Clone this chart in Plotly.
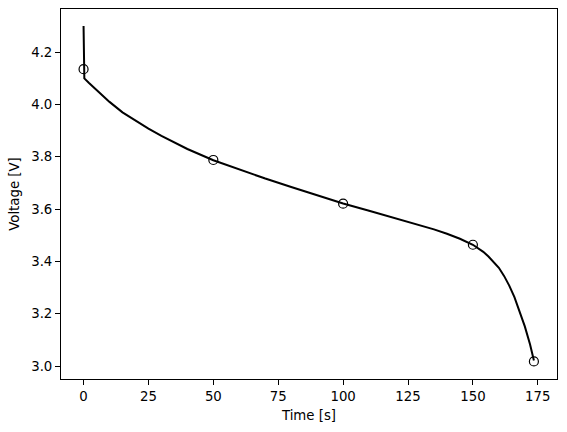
import plotly.graph_objects as go

# Voltage curve
time_s = [0, 0.3, 2, 5, 10, 15, 20, 25, 30, 40, 50, 60, 70, 80, 90, 100,
          110, 120, 130, 135, 140, 145, 150, 152, 154, 156, 158, 160, 162,
          164, 166, 168, 170, 172, 173.5]
voltage_v = [4.30, 4.10, 4.083, 4.055, 4.010, 3.970, 3.938, 3.908, 3.880,
             3.830, 3.787, 3.751, 3.717, 3.685, 3.654, 3.622, 3.594, 3.566,
             3.539, 3.523, 3.506, 3.487, 3.464, 3.451, 3.437, 3.419, 3.399,
             3.376, 3.345, 3.308, 3.264, 3.212, 3.152, 3.084, 3.022]

# Marker points
marker_t = [0, 50, 100, 150, 173.5]
marker_v = [4.135, 3.788, 3.621, 3.464, 3.018]

x_ticks = [0, 25, 50, 75, 100, 125, 150, 175]
y_ticks = [3.0, 3.2, 3.4, 3.6, 3.8, 4.0, 4.2]

fig = go.Figure()
fig.add_trace(go.Scatter(x=time_s, y=voltage_v, mode="lines",
                         line=dict(color="black", width=2),
                         showlegend=False))
fig.add_trace(go.Scatter(x=marker_t, y=marker_v, mode="markers",
                         marker=dict(symbol="circle-open", size=9,
                                     color="black", line=dict(width=1.2, color="black")),
                         showlegend=False))

font = dict(family="DejaVu Sans", size=13.3, color="black")
axis_common = dict(showgrid=False, zeroline=False, showline=True, linecolor="black",
                   linewidth=1, mirror=True, ticks="outside", ticklen=5,
                   tickwidth=1, tickcolor="black", tickfont=font)

fig.update_layout(
    width=567, height=432,
    margin=dict(l=61, r=9.5, t=9, b=53),
    plot_bgcolor="white", paper_bgcolor="white",
    font=font,
    xaxis=dict(range=[-8.69, 182.4], tickvals=x_ticks,
               ticktext=[str(v) for v in x_ticks],
               title=dict(text="Time [s]", font=font, standoff=7), **axis_common),
    yaxis=dict(range=[2.951, 4.365], tickvals=y_ticks,
               ticktext=[f"{v:.1f}" for v in y_ticks],
               title=dict(text="Voltage [V]", font=font, standoff=8), **axis_common),
)

fig.write_html("out.html")
